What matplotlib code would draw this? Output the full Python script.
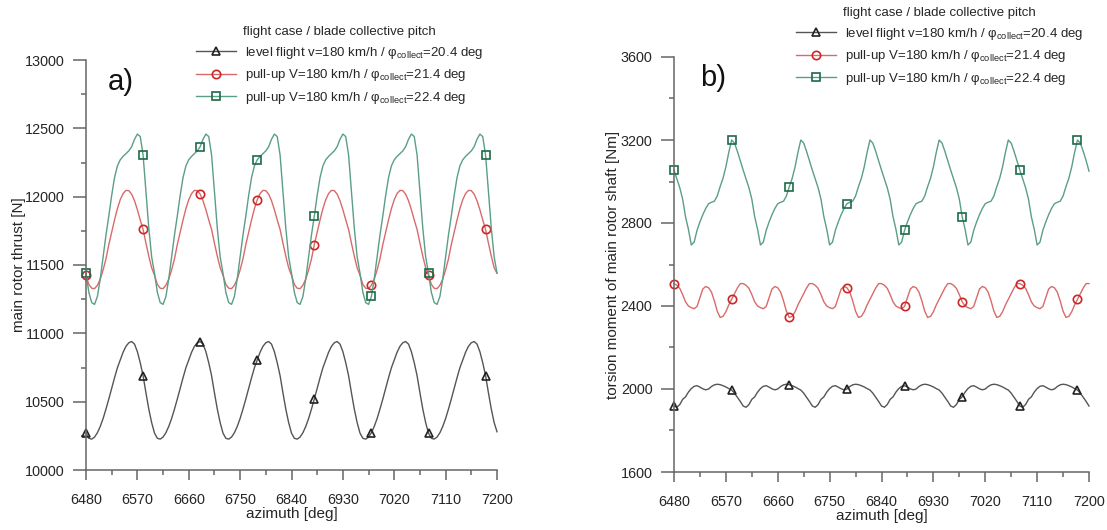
import numpy as np
import matplotlib
matplotlib.use("Agg")
import matplotlib.pyplot as plt
from matplotlib.ticker import MultipleLocator

plt.rcParams['font.family'] = ['Liberation Sans', 'DejaVu Sans']
plt.rcParams['mathtext.fontset'] = 'custom'
plt.rcParams['mathtext.rm'] = 'Liberation Sans'
plt.rcParams['mathtext.it'] = 'Liberation Sans:italic'

# azimuth sampling [deg], 5 deg step (markers every 100 deg)
azimuth = np.arange(6480, 7201, 5)

# a) main rotor thrust [N]
thrust_level = [
    10270, 10232, 10226, 10241, 10273, 10319, 10377, 10446, 10520, 10598, 10675, 10748, 10805, 10862, 10905, 10931, 10940, 10921, 10866, 10785, 10690, 10565, 10446, 10347,
    10270, 10232, 10226, 10241, 10273, 10319, 10377, 10446, 10520, 10598, 10675, 10748, 10805, 10862, 10905, 10931, 10940, 10921, 10866, 10785, 10690, 10565, 10446, 10347,
    10270, 10232, 10226, 10241, 10273, 10319, 10377, 10446, 10520, 10598, 10675, 10748, 10805, 10862, 10905, 10931, 10940, 10921, 10866, 10785, 10690, 10565, 10446, 10347,
    10270, 10232, 10226, 10241, 10273, 10319, 10377, 10446, 10520, 10598, 10675, 10748, 10805, 10862, 10905, 10931, 10940, 10921, 10866, 10785, 10690, 10565, 10446, 10347,
    10270, 10232, 10226, 10241, 10273, 10319, 10377, 10446, 10520, 10598, 10675, 10748, 10805, 10862, 10905, 10931, 10940, 10921, 10866, 10785, 10690, 10565, 10446, 10347,
    10270, 10232, 10226, 10241, 10273, 10319, 10377, 10446, 10520, 10598, 10675, 10748, 10805, 10862, 10905, 10931, 10940, 10921, 10866, 10785, 10690, 10565, 10446, 10347,
    10280]
thrust_pull214 = [
    11425, 11358, 11330, 11327, 11352, 11397, 11464, 11545, 11650, 11740, 11830, 11912, 11978, 12023, 12046, 12044, 12018, 11970, 11905, 11830, 11760, 11660, 11565, 11480,
    11425, 11358, 11330, 11327, 11352, 11397, 11464, 11545, 11650, 11740, 11830, 11912, 11978, 12023, 12046, 12044, 12018, 11970, 11905, 11830, 11760, 11660, 11565, 11480,
    11425, 11358, 11330, 11327, 11352, 11397, 11464, 11545, 11650, 11740, 11830, 11912, 11978, 12023, 12046, 12044, 12018, 11970, 11905, 11830, 11760, 11660, 11565, 11480,
    11425, 11358, 11330, 11327, 11352, 11397, 11464, 11545, 11650, 11740, 11830, 11912, 11978, 12023, 12046, 12044, 12018, 11970, 11905, 11830, 11760, 11660, 11565, 11480,
    11425, 11358, 11330, 11327, 11352, 11397, 11464, 11545, 11650, 11740, 11830, 11912, 11978, 12023, 12046, 12044, 12018, 11970, 11905, 11830, 11760, 11660, 11565, 11480,
    11425, 11358, 11330, 11327, 11352, 11397, 11464, 11545, 11650, 11740, 11830, 11912, 11978, 12023, 12046, 12044, 12018, 11970, 11905, 11830, 11760, 11660, 11565, 11480,
    11440]
thrust_pull224 = [
    11440, 11300, 11225, 11212, 11270, 11400, 11560, 11720, 11860, 12010, 12140, 12225, 12270, 12295, 12315, 12335, 12366, 12420, 12458, 12440, 12305, 12040, 11770, 11560,
    11440, 11300, 11225, 11212, 11270, 11400, 11560, 11720, 11860, 12010, 12140, 12225, 12270, 12295, 12315, 12335, 12366, 12420, 12458, 12440, 12305, 12040, 11770, 11560,
    11440, 11300, 11225, 11212, 11270, 11400, 11560, 11720, 11860, 12010, 12140, 12225, 12270, 12295, 12315, 12335, 12366, 12420, 12458, 12440, 12305, 12040, 11770, 11560,
    11440, 11300, 11225, 11212, 11270, 11400, 11560, 11720, 11860, 12010, 12140, 12225, 12270, 12295, 12315, 12335, 12366, 12420, 12458, 12440, 12305, 12040, 11770, 11560,
    11440, 11300, 11225, 11212, 11270, 11400, 11560, 11720, 11860, 12010, 12140, 12225, 12270, 12295, 12315, 12335, 12366, 12420, 12458, 12440, 12305, 12040, 11770, 11560,
    11440, 11300, 11225, 11212, 11270, 11400, 11560, 11720, 11860, 12010, 12140, 12225, 12270, 12295, 12315, 12335, 12366, 12420, 12458, 12440, 12305, 12040, 11770, 11560,
    11440]

# b) torsion moment of main rotor shaft [Nm]
torque_level = [
    1918, 1912, 1925, 1950, 1962, 1985, 2002, 2013, 2016, 2009, 2001, 1996, 2000, 2012, 2020, 2023, 2021, 2016, 2010, 2002, 1995, 1980, 1960, 1940,
    1918, 1912, 1925, 1950, 1962, 1985, 2002, 2013, 2016, 2009, 2001, 1996, 2000, 2012, 2020, 2023, 2021, 2016, 2010, 2002, 1995, 1980, 1960, 1940,
    1918, 1912, 1925, 1950, 1962, 1985, 2002, 2013, 2016, 2009, 2001, 1996, 2000, 2012, 2020, 2023, 2021, 2016, 2010, 2002, 1995, 1980, 1960, 1940,
    1918, 1912, 1925, 1950, 1962, 1985, 2002, 2013, 2016, 2009, 2001, 1996, 2000, 2012, 2020, 2023, 2021, 2016, 2010, 2002, 1995, 1980, 1960, 1940,
    1918, 1912, 1925, 1950, 1962, 1985, 2002, 2013, 2016, 2009, 2001, 1996, 2000, 2012, 2020, 2023, 2021, 2016, 2010, 2002, 1995, 1980, 1960, 1940,
    1918, 1912, 1925, 1950, 1962, 1985, 2002, 2013, 2016, 2009, 2001, 1996, 2000, 2012, 2020, 2023, 2021, 2016, 2010, 2002, 1995, 1980, 1960, 1940,
    1918]
torque_pull214 = [
    2508, 2500, 2485, 2455, 2420, 2400, 2392, 2387, 2398, 2440, 2482, 2494, 2488, 2467, 2425, 2375, 2345, 2350, 2372, 2405, 2432, 2460, 2487, 2508,
    2508, 2500, 2485, 2455, 2420, 2400, 2392, 2387, 2398, 2440, 2482, 2494, 2488, 2467, 2425, 2375, 2345, 2350, 2372, 2405, 2432, 2460, 2487, 2508,
    2508, 2500, 2485, 2455, 2420, 2400, 2392, 2387, 2398, 2440, 2482, 2494, 2488, 2467, 2425, 2375, 2345, 2350, 2372, 2405, 2432, 2460, 2487, 2508,
    2508, 2500, 2485, 2455, 2420, 2400, 2392, 2387, 2398, 2440, 2482, 2494, 2488, 2467, 2425, 2375, 2345, 2350, 2372, 2405, 2432, 2460, 2487, 2508,
    2508, 2500, 2485, 2455, 2420, 2400, 2392, 2387, 2398, 2440, 2482, 2494, 2488, 2467, 2425, 2375, 2345, 2350, 2372, 2405, 2432, 2460, 2487, 2508,
    2508, 2500, 2485, 2455, 2420, 2400, 2392, 2387, 2398, 2440, 2482, 2494, 2488, 2467, 2425, 2375, 2345, 2350, 2372, 2405, 2432, 2460, 2487, 2508,
    2508]
torque_pull224 = [
    3055, 3012, 2970, 2915, 2830, 2770, 2694, 2708, 2765, 2805, 2840, 2870, 2893, 2900, 2905, 2930, 2975, 3015, 3070, 3140, 3200, 3185, 3145, 3100,
    3055, 3012, 2970, 2915, 2830, 2770, 2694, 2708, 2765, 2805, 2840, 2870, 2893, 2900, 2905, 2930, 2975, 3015, 3070, 3140, 3200, 3185, 3145, 3100,
    3055, 3012, 2970, 2915, 2830, 2770, 2694, 2708, 2765, 2805, 2840, 2870, 2893, 2900, 2905, 2930, 2975, 3015, 3070, 3140, 3200, 3185, 3145, 3100,
    3055, 3012, 2970, 2915, 2830, 2770, 2694, 2708, 2765, 2805, 2840, 2870, 2893, 2900, 2905, 2930, 2975, 3015, 3070, 3140, 3200, 3185, 3145, 3100,
    3055, 3012, 2970, 2915, 2830, 2770, 2694, 2708, 2765, 2805, 2840, 2870, 2893, 2900, 2905, 2930, 2975, 3015, 3070, 3140, 3200, 3185, 3145, 3100,
    3055, 3012, 2970, 2915, 2830, 2770, 2694, 2708, 2765, 2805, 2840, 2870, 2893, 2900, 2905, 2930, 2975, 3015, 3070, 3140, 3200, 3185, 3145, 3100,
    3050]

labels = [
    "level flight v=180 km/h / $\\mathrm{φ}_{\\mathrm{collect}}$=20.4 deg",
    "pull-up V=180 km/h / $\\mathrm{φ}_{\\mathrm{collect}}$=21.4 deg",
    "pull-up V=180 km/h / $\\mathrm{φ}_{\\mathrm{collect}}$=22.4 deg",
]
x_ticks = [6480, 6570, 6660, 6750, 6840, 6930, 7020, 7110, 7200]

styles = [
    dict(color="#555555", marker="^", mec="#222222"),
    dict(color="#d96a6a", marker="o", mec="#cc2626"),
    dict(color="#5a9e86", marker="s", mec="#1d6a48"),
]

txt = "#262626"
axc = "#666666"

fig = plt.figure(figsize=(11.07, 5.30), dpi=100, facecolor="white")
ax1 = fig.add_axes([86/1107, 1-470/530, 411/1107, 410/530])
ax2 = fig.add_axes([674/1107, 1-472/530, 415/1107, 415/530])


def draw(ax, series, ylim, ymaj, ymin, ylabel, ylab_x):
    for vals, st, lab in zip(series, styles, labels):
        ax.plot(azimuth, vals, color=st["color"], lw=1.0, marker=st["marker"],
                markevery=20, ms=6 if st["marker"] != "^" else 5.5,
                mfc="none", mec=st["mec"], mew=1.2, label=lab, clip_on=False)
    ax.set_xlim(6480, 7200)
    ax.set_ylim(*ylim)
    ax.set_xticks(x_ticks)
    ax.xaxis.set_minor_locator(MultipleLocator(45))
    ax.yaxis.set_major_locator(MultipleLocator(ymaj))
    ax.yaxis.set_minor_locator(MultipleLocator(ymin))
    for s in ["top", "right"]:
        ax.spines[s].set_visible(False)
    for s in ["left", "bottom"]:
        ax.spines[s].set_color(axc)
        ax.spines[s].set_linewidth(1.1)
    ax.tick_params(axis="x", which="major", direction="out", length=7.5, width=1.1,
                   color=axc, labelsize=10.4, labelcolor=txt, pad=9)
    ax.tick_params(axis="y", which="major", direction="out", length=9.5, width=1.1,
                   color=axc, labelsize=10.4, labelcolor=txt, pad=6)
    ax.tick_params(which="minor", direction="out", length=3.6, width=1.1, color=axc)
    ax.set_xlabel("azimuth [deg]", fontsize=11, color=txt, labelpad=0)
    ax.set_ylabel(ylabel, fontsize=11, color=txt)
    ax.yaxis.set_label_coords(ylab_x, 0.5)


draw(ax1, [thrust_level, thrust_pull214, thrust_pull224], (10000, 13000), 500, 250,
     "main rotor thrust [N]", -0.145)
draw(ax2, [torque_level, torque_pull214, torque_pull224], (1600, 3600), 400, 200,
     "torsion moment of main rotor shaft [Nm]", -0.13)

leg_kw = dict(loc="upper left", frameon=False, borderpad=0, borderaxespad=0,
              handlelength=3.0, handletextpad=0.7, fontsize=9.5, labelspacing=0.5,
              title="flight case / blade collective pitch", title_fontsize=9.5,
              bbox_transform=fig.transFigure)
leg1 = ax1.legend(bbox_to_anchor=(196/1107, 1-26/530), **leg_kw)
leg2 = ax2.legend(bbox_to_anchor=(796/1107, 1-7/530), **leg_kw)
for leg in (leg1, leg2):
    leg.get_title().set_color(txt)
    for t in leg.get_texts():
        t.set_color(txt)

fig.text(108/1107, 1-90/530, "a)", fontsize=21, color="#111111", va="baseline")
fig.text(700/1107, 1-86/530, "b)", fontsize=21, color="#111111", va="baseline")

fig.savefig("out.png", dpi=100, facecolor="white")
